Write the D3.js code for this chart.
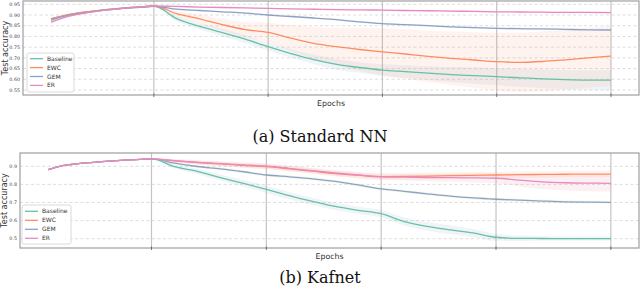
<!DOCTYPE html>
<html>
<head>
<meta charset="utf-8">
<script src="https://cdn.jsdelivr.net/npm/d3@7"></script>
<style>
  body { margin: 0; background: #fff; }
  svg { display: block; }
</style>
</head>
<body>
<div class="graph"></div>
<script>
// ---- data ----
let methods = ["Baseline", "EWC", "GEM", "ER"];
let lineColors = ["#66c2a5", "#fc8d62", "#8da0cb", "#e78ac3"];
let bandColors = ["#8da0cb", "#fc8d62", "#a6d854", "#f08a9e"];

let epochs = [1,2,3,4,5,6,7,8,9,10,12,14,16,18,20,22,24,26,28,30,32,34,36,38,40,42,44,46,48,50];
let taskEnds = [10, 20, 30, 40, 50];

// (a) Standard NN
let nnBaseline = [0.882,0.895,0.905,0.913,0.920,0.926,0.931,0.935,0.938,0.942,0.883,0.847,0.818,0.787,0.752,0.720,0.692,0.670,0.655,0.643,0.636,0.629,0.622,0.617,0.612,0.607,0.602,0.598,0.596,0.596];
let nnEWC      = [0.882,0.896,0.906,0.914,0.920,0.926,0.931,0.935,0.938,0.942,0.906,0.882,0.855,0.832,0.819,0.792,0.768,0.752,0.739,0.728,0.718,0.707,0.698,0.690,0.682,0.679,0.683,0.691,0.700,0.708];
let nnGEM      = [0.876,0.892,0.903,0.911,0.918,0.924,0.929,0.933,0.937,0.941,0.927,0.921,0.915,0.909,0.900,0.893,0.886,0.878,0.868,0.860,0.855,0.850,0.845,0.841,0.838,0.836,0.835,0.833,0.831,0.830];
let nnER       = [0.867,0.886,0.899,0.909,0.917,0.924,0.929,0.934,0.938,0.942,0.940,0.937,0.935,0.933,0.931,0.929,0.927,0.925,0.924,0.923,0.921,0.920,0.918,0.917,0.915,0.914,0.913,0.912,0.912,0.911];
let nnBaselineSd = [0.003,0.003,0.002,0.002,0.002,0.002,0.002,0.002,0.002,0.002,0.012,0.015,0.018,0.018,0.018,0.020,0.022,0.025,0.025,0.027,0.030,0.032,0.035,0.038,0.040,0.042,0.044,0.045,0.046,0.046];
let nnEWCSd      = [0.003,0.002,0.002,0.002,0.002,0.002,0.002,0.002,0.002,0.002,0.012,0.020,0.027,0.035,0.045,0.060,0.075,0.088,0.100,0.110,0.115,0.120,0.125,0.130,0.135,0.138,0.140,0.140,0.140,0.138];
let nnGEMSd      = [0.006,0.004,0.003,0.003,0.003,0.003,0.003,0.003,0.003,0.003,0.004,0.004,0.004,0.004,0.004,0.004,0.004,0.004,0.004,0.004,0.004,0.004,0.004,0.004,0.004,0.004,0.004,0.004,0.004,0.004];
let nnERSd       = [0.010,0.006,0.004,0.003,0.003,0.003,0.003,0.003,0.003,0.003,0.003,0.003,0.003,0.003,0.003,0.003,0.004,0.004,0.004,0.004,0.004,0.004,0.004,0.004,0.004,0.004,0.004,0.004,0.004,0.004];

// (b) Kafnet
let kfBaseline = [0.882,0.900,0.910,0.917,0.922,0.927,0.931,0.935,0.938,0.941,0.898,0.872,0.838,0.806,0.773,0.738,0.706,0.678,0.657,0.638,0.595,0.568,0.549,0.532,0.508,0.502,0.501,0.500,0.500,0.500];
let kfEWC      = [0.882,0.900,0.910,0.917,0.922,0.927,0.931,0.935,0.938,0.941,0.930,0.921,0.913,0.905,0.898,0.886,0.873,0.860,0.851,0.843,0.844,0.846,0.848,0.850,0.852,0.854,0.855,0.856,0.857,0.857];
let kfGEM      = [0.882,0.900,0.910,0.917,0.922,0.927,0.931,0.935,0.938,0.941,0.917,0.899,0.886,0.870,0.852,0.842,0.831,0.817,0.797,0.775,0.762,0.748,0.735,0.725,0.718,0.713,0.708,0.704,0.702,0.701];
let kfER       = [0.882,0.900,0.910,0.917,0.922,0.927,0.931,0.935,0.938,0.941,0.931,0.922,0.915,0.908,0.901,0.889,0.876,0.863,0.852,0.842,0.840,0.838,0.837,0.836,0.834,0.824,0.814,0.809,0.807,0.806];
let kfBaselineSd = [0.002,0.002,0.002,0.002,0.002,0.002,0.002,0.002,0.002,0.002,0.010,0.014,0.017,0.018,0.020,0.020,0.020,0.020,0.020,0.020,0.022,0.024,0.025,0.022,0.020,0.015,0.013,0.012,0.012,0.012];
let kfEWCSd      = [0.002,0.002,0.002,0.002,0.002,0.002,0.002,0.002,0.002,0.002,0.008,0.010,0.012,0.013,0.014,0.015,0.016,0.017,0.018,0.018,0.018,0.018,0.018,0.018,0.018,0.018,0.018,0.018,0.018,0.018];
let kfGEMSd      = [0.002,0.002,0.002,0.002,0.002,0.002,0.002,0.002,0.002,0.002,0.006,0.007,0.008,0.008,0.008,0.008,0.008,0.008,0.008,0.008,0.008,0.008,0.008,0.008,0.008,0.008,0.008,0.008,0.008,0.008];
let kfERSd       = [0.002,0.002,0.002,0.002,0.002,0.002,0.002,0.002,0.002,0.002,0.010,0.012,0.013,0.014,0.015,0.015,0.015,0.015,0.015,0.015,0.018,0.020,0.022,0.025,0.028,0.035,0.040,0.043,0.045,0.045];

let nnTicks = [0.55,0.60,0.65,0.70,0.75,0.80,0.85,0.90,0.95];
let kfTicks = [0.5,0.6,0.7,0.8,0.9];

let w = 640;
let h = 298;

let svg = d3.select(".graph")
    .append("svg")
    .attr("width", w)
    .attr("height", h)
    .style("font-family", "'DejaVu Sans', sans-serif");

function drawPanel(opt) {
    let x = d3.scaleLinear().domain([-1.45, 52.45]).range([opt.left, opt.right]);
    let y = d3.scaleLinear().domain(opt.yDomain).range([opt.bottom, opt.top]);
    let g = svg.append("g");

    // horizontal dashed grid
    g.append("g").selectAll("line")
        .data(opt.ticks)
        .enter().append("line")
        .attr("x1", opt.left).attr("x2", opt.right)
        .attr("y1", d => y(d)).attr("y2", d => y(d))
        .attr("stroke", "#d4d4d4")
        .attr("stroke-width", 0.8)
        .attr("stroke-dasharray", "3,2.5");

    // task boundaries
    g.append("g").selectAll("line")
        .data(taskEnds)
        .enter().append("line")
        .attr("x1", d => x(d)).attr("x2", d => x(d))
        .attr("y1", opt.top).attr("y2", opt.bottom)
        .attr("stroke", "#c4c4c4")
        .attr("stroke-width", 1.2);

    g.append("clipPath").attr("id", opt.id + "clip")
        .append("rect")
        .attr("x", opt.left).attr("y", opt.top)
        .attr("width", opt.right - opt.left).attr("height", opt.bottom - opt.top);

    let area = d3.area()
        .x((d, i) => x(epochs[i]))
        .y0(d => y(d[0] - d[1]))
        .y1(d => y(d[0] + d[1]))
        .curve(d3.curveMonotoneX);
    let line = d3.line()
        .x((d, i) => x(epochs[i]))
        .y(d => y(d))
        .curve(d3.curveMonotoneX);

    let plot = g.append("g").attr("clip-path", "url(#" + opt.id + "clip)");

    opt.series.forEach(function (s, k) {
        plot.append("path")
            .datum(s.map((v, i) => [v, opt.sds[k][i]]))
            .attr("d", area)
            .attr("fill", bandColors[k])
            .attr("fill-opacity", k == 1 ? 0.1 : 0.13);
    });
    opt.series.forEach(function (s, k) {
        plot.append("path")
            .datum(s)
            .attr("d", line)
            .attr("fill", "none")
            .attr("stroke", lineColors[k])
            .attr("stroke-width", 1.3);
    });

    // frame
    g.append("rect")
        .attr("x", opt.left).attr("y", opt.top)
        .attr("width", opt.right - opt.left).attr("height", opt.bottom - opt.top)
        .attr("fill", "none")
        .attr("stroke", "#a6a6a6")
        .attr("stroke-width", 1.3);

    // x ticks at boundaries
    g.append("g").selectAll("line")
        .data(taskEnds)
        .enter().append("line")
        .attr("x1", d => x(d)).attr("x2", d => x(d))
        .attr("y1", opt.bottom - 1.5).attr("y2", opt.bottom + 2)
        .attr("stroke", "#555")
        .attr("stroke-width", 0.8);

    // y tick labels
    g.append("g").selectAll("text")
        .data(opt.ticks)
        .enter().append("text")
        .attr("x", opt.left - 3)
        .attr("y", d => y(d) + 1.7)
        .attr("text-anchor", "end")
        .attr("font-size", "4.8px")
        .attr("fill", "#444")
        .text(d => opt.fmt(d));

    g.append("text")
        .attr("transform", "translate(" + opt.yLabelX + "," + ((opt.top + opt.bottom) / 2) + ") rotate(-90)")
        .attr("text-anchor", "middle")
        .attr("font-size", "8px")
        .attr("fill", "#333")
        .text("Test accuracy");

    g.append("text")
        .attr("x", (opt.left + opt.right) / 2)
        .attr("y", opt.bottom + 11)
        .attr("text-anchor", "middle")
        .attr("font-size", "7.8px")
        .attr("fill", "#333")
        .text("Epochs");

    // legend
    let lg = g.append("g");
    lg.append("rect")
        .attr("x", opt.legend.x).attr("y", opt.legend.y)
        .attr("width", opt.legend.w).attr("height", opt.legend.h)
        .attr("rx", 2)
        .attr("fill", "#fff").attr("fill-opacity", 0.85)
        .attr("stroke", "#d0d0d0").attr("stroke-width", 0.8);
    let item = lg.selectAll(".item")
        .data(methods)
        .enter().append("g")
        .attr("transform", (d, i) => "translate(" + opt.legend.x + "," + (opt.legend.y + opt.legend.first + i * opt.legend.step) + ")");
    item.append("line")
        .attr("x1", 3).attr("x2", 16)
        .attr("stroke", (d, i) => lineColors[i])
        .attr("stroke-width", 1.3);
    item.append("text")
        .attr("x", 20)
        .attr("y", 2)
        .attr("font-size", "6px")
        .attr("fill", "#333")
        .text(d => d);

    svg.append("text")
        .attr("x", 320)
        .attr("y", opt.titleY)
        .attr("text-anchor", "middle")
        .attr("font-family", "'DejaVu Serif', serif")
        .attr("font-size", "16px")
        .attr("fill", "#111")
        .text(opt.title);
}

drawPanel({
    id: "nn",
    left: 23, right: 639, top: 1, bottom: 95,
    yDomain: [0.5266, 0.9654],
    ticks: nnTicks,
    fmt: d3.format(".2f"),
    yLabelX: 7.5,
    series: [nnBaseline, nnEWC, nnGEM, nnER],
    sds: [nnBaselineSd, nnEWCSd, nnGEMSd, nnERSd],
    legend: { x: 27, y: 53, w: 47, h: 39, first: 5.7, step: 8.9 },
    title: "(a) Standard NN",
    titleY: 141.5
});

drawPanel({
    id: "kf",
    left: 20, right: 639, top: 153, bottom: 248,
    yDomain: [0.4486, 0.9735],
    ticks: kfTicks,
    fmt: d3.format(".1f"),
    yLabelX: 7,
    series: [kfBaseline, kfEWC, kfGEM, kfER],
    sds: [kfBaselineSd, kfEWCSd, kfGEMSd, kfERSd],
    legend: { x: 22, y: 205, w: 49, h: 39, first: 6.3, step: 9 },
    title: "(b) Kafnet",
    titleY: 283
});
</script>
</body>
</html>
